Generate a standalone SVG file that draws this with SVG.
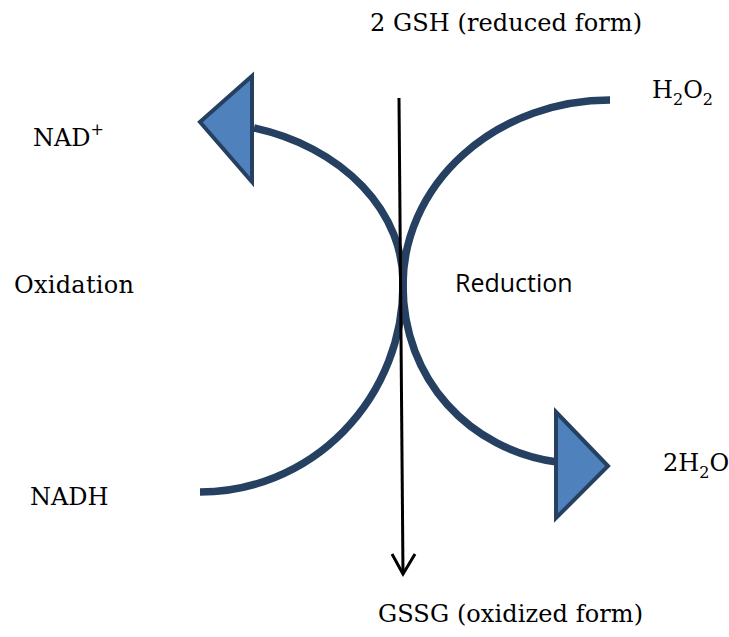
<svg xmlns="http://www.w3.org/2000/svg" width="729" height="637" viewBox="0 0 729 637">
  <style>
    .lbl { font-family: "DejaVu Serif", "Liberation Serif", serif; font-size: 24px; fill: #000; }
    .sans { font-family: "Open Sans", "Liberation Sans", sans-serif; font-size: 25px; fill: #000; }
    .sub { font-size: 16px; }
    .arc { fill: none; stroke: #254061; stroke-width: 7.5; }
    .head { fill: #4F81BD; stroke: #254061; stroke-width: 4; stroke-linejoin: miter; }
    .rxn { fill: none; stroke: #000; stroke-width: 3; }
  </style>

  <g id="connectors">
    <!-- oxidation half: NADH curving up to NAD+ -->
    <path id="oxidation-arc" class="arc" d="M200,492 A203,207 0 0 0 403,285 A203,160 0 0 0 254,128"/>
    <polygon class="head" points="252,76 200,122 252,182"/>
    <!-- reduction half: H2O2 curving down to 2H2O -->
    <path id="reduction-arc" class="arc" d="M610,100 A207,185 0 0 0 403,285 C403,380 470,450 557,462"/>
    <polygon class="head" points="556,412 608,466 556,518"/>
    <!-- glutathione arrow -->
    <path id="gsh-arrow" class="rxn" d="M399,98 L403,574"/>
    <path class="rxn" d="M392,554 L403,574 L415,554"/>
  </g>

  <g id="node-gsh"><text class="lbl" x="370" y="31" textLength="272">2 GSH (reduced form)</text></g>
  <g id="node-gssg"><text class="lbl" x="378" y="622" textLength="265">GSSG (oxidized form)</text></g>
  <g id="node-h2o2"><text class="lbl" x="652" y="98">H<tspan class="sub" dy="7">2</tspan><tspan dy="-7">O</tspan><tspan class="sub" dy="7">2</tspan></text></g>
  <g id="node-h2o"><text class="lbl" x="663" y="471">2H<tspan class="sub" dy="7">2</tspan><tspan dy="-7">O</tspan></text></g>
  <g id="node-nad"><text class="lbl" x="33" y="146">NAD<tspan class="sub" dy="-11">+</tspan></text></g>
  <g id="node-nadh"><text class="lbl" x="30" y="505">NADH</text></g>
  <g id="node-oxidation"><text class="lbl" x="14" y="293" textLength="120">Oxidation</text></g>
  <g id="node-reduction"><text class="sans" x="455" y="292">Reduction</text></g>
</svg>
